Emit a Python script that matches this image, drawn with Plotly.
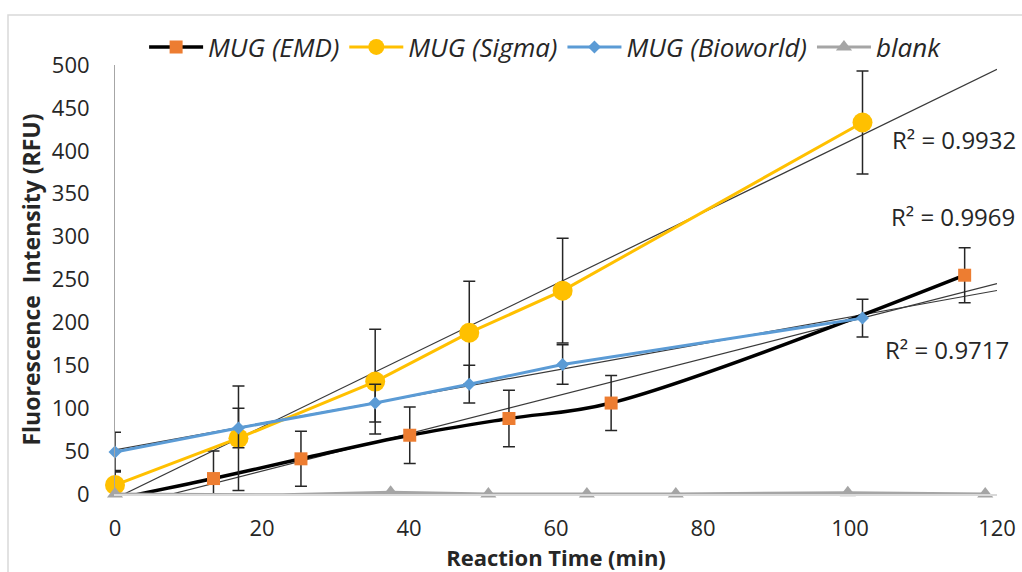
import numpy as np
import plotly.graph_objects as go

# ---- data ----
emd_x = [0, 13.4, 25.3, 40.1, 53.6, 67.5, 115.6]
emd_y = [-6, 18, 41, 68.5, 88, 106, 255]
emd_err = [32, 32, 32, 33, 33, 32, 32]

sigma_x = [0, 16.8, 35.4, 48.2, 60.9, 101.7]
sigma_y = [10.5, 65, 131, 188, 237, 433]
sigma_err = [17, 61, 61, 60, 61, 60]

bio_x = [0, 16.8, 35.4, 48.2, 60.9, 101.7]
bio_y = [49, 77, 106, 128, 151, 205]
bio_err = [23, 23, 22, 22, 23, 22]

blank_x = [0, 22.8, 37.5, 50.8, 64.2, 76.3, 99.7, 118.4]
blank_y = [0, -1, 2, 0, 0, 0, 1.5, 0]

r2_labels = ["R² = 0.9932", "R² = 0.9969", "R² = 0.9717"]
r2_pos_x = [114.2, 114.0, 113.2]
r2_pos_y = [413, 324, 168]

x_ticks = [0, 20, 40, 60, 80, 100, 120]
y_ticks = [0, 50, 100, 150, 200, 250, 300, 350, 400, 450, 500]

FONT = "Open Sans"
ERR_COLOR = "#262626"
TREND_COLOR = "#3a3a3a"

fig = go.Figure()

# linear trendlines (computed from the series)
trend_x = np.array([0, 120])
for xs, ys in [(sigma_x, sigma_y), (emd_x, emd_y), (bio_x, bio_y)]:
    m, b = np.polyfit(xs, ys, 1)
    fig.add_trace(go.Scatter(x=trend_x, y=m * trend_x + b, mode="lines",
                             line=dict(color=TREND_COLOR, width=1.2),
                             showlegend=False, hoverinfo="skip"))

def err(vals):
    return dict(type="data", array=vals, visible=True, color=ERR_COLOR,
                thickness=1.5, width=6)

fig.add_trace(go.Scatter(
    x=emd_x, y=emd_y, name="<i>MUG (EMD)</i>", mode="lines+markers",
    line=dict(color="black", width=3.5, shape="spline", smoothing=1.0),
    marker=dict(symbol="square", size=13, color="#ED7D31"),
    error_y=err(emd_err), cliponaxis=True))

fig.add_trace(go.Scatter(
    x=sigma_x, y=sigma_y, name="<i>MUG (Sigma)</i>", mode="lines+markers",
    line=dict(color="#FFC000", width=3),
    marker=dict(symbol="circle", size=20, color="#FFC000"),
    error_y=err(sigma_err), cliponaxis=False))

fig.add_trace(go.Scatter(
    x=bio_x, y=bio_y, name="<i>MUG (Bioworld)</i>", mode="lines+markers",
    line=dict(color="#5B9BD5", width=3),
    marker=dict(symbol="diamond", size=10, color="#5B9BD5"),
    error_y=err(bio_err), cliponaxis=False))

fig.add_trace(go.Scatter(
    x=blank_x, y=blank_y, name="<i>blank</i>", mode="lines+markers",
    line=dict(color="#A5A5A5", width=3),
    marker=dict(symbol="triangle-up", size=14, color="#A5A5A5"),
    cliponaxis=False))

for t, xx, yy in zip(r2_labels, r2_pos_x, r2_pos_y):
    fig.add_annotation(x=xx, y=yy, xref="x", yref="y", text=t, showarrow=False,
                       font=dict(family=FONT, size=24, color="#262626"))

L, R, T, B = 115, 25, 65, 78
PW, PH = 1022 - L - R, 572 - T - B

# chart-area border (light grey, top and left visible)
fig.add_shape(type="rect", xref="paper", yref="paper",
              x0=-(L - 8) / PW, x1=1.2, y0=-0.5, y1=1 + (T - 15) / PH,
              line=dict(color="#D9D9D9", width=1.5), fillcolor="rgba(0,0,0,0)",
              layer="below")

fig.update_layout(
    width=1022, height=572,
    margin=dict(l=L, r=R, t=T, b=B),
    paper_bgcolor="white", plot_bgcolor="white",
    font=dict(family=FONT, size=22, color="#262626"),
    showlegend=True,
    legend=dict(orientation="h", x=0.033, y=1 + (T - 47) / PH, xanchor="left",
                yanchor="middle",
                font=dict(family=FONT, size=26, color="#262626"),
                itemwidth=54, bgcolor="rgba(0,0,0,0)"),
    xaxis=dict(range=[0, 120], tickvals=x_ticks, showgrid=False, zeroline=False,
               showline=True, linecolor="#D9D9D9", linewidth=1.5, ticks="",
               ticklabelstandoff=14, automargin=False,
               title=dict(text="<b>Reaction Time (min)</b>", standoff=10,
                          font=dict(family=FONT, size=22, color="#262626"))),
    yaxis=dict(range=[0, 500], tickvals=y_ticks, showgrid=False, zeroline=False,
               showline=True, linecolor="#A6A6A6", linewidth=1, ticks="",
               ticklabelstandoff=20, automargin=False,
               title=dict(text="<b>Fluorescence  Intensity (RFU)</b>", standoff=4,
                          font=dict(family=FONT, size=23, color="#262626"))),
)

fig.write_html("out.html", config={"displayModeBar": False},
               post_script="document.body.style.margin='0';document.body.style.overflow='hidden';")
